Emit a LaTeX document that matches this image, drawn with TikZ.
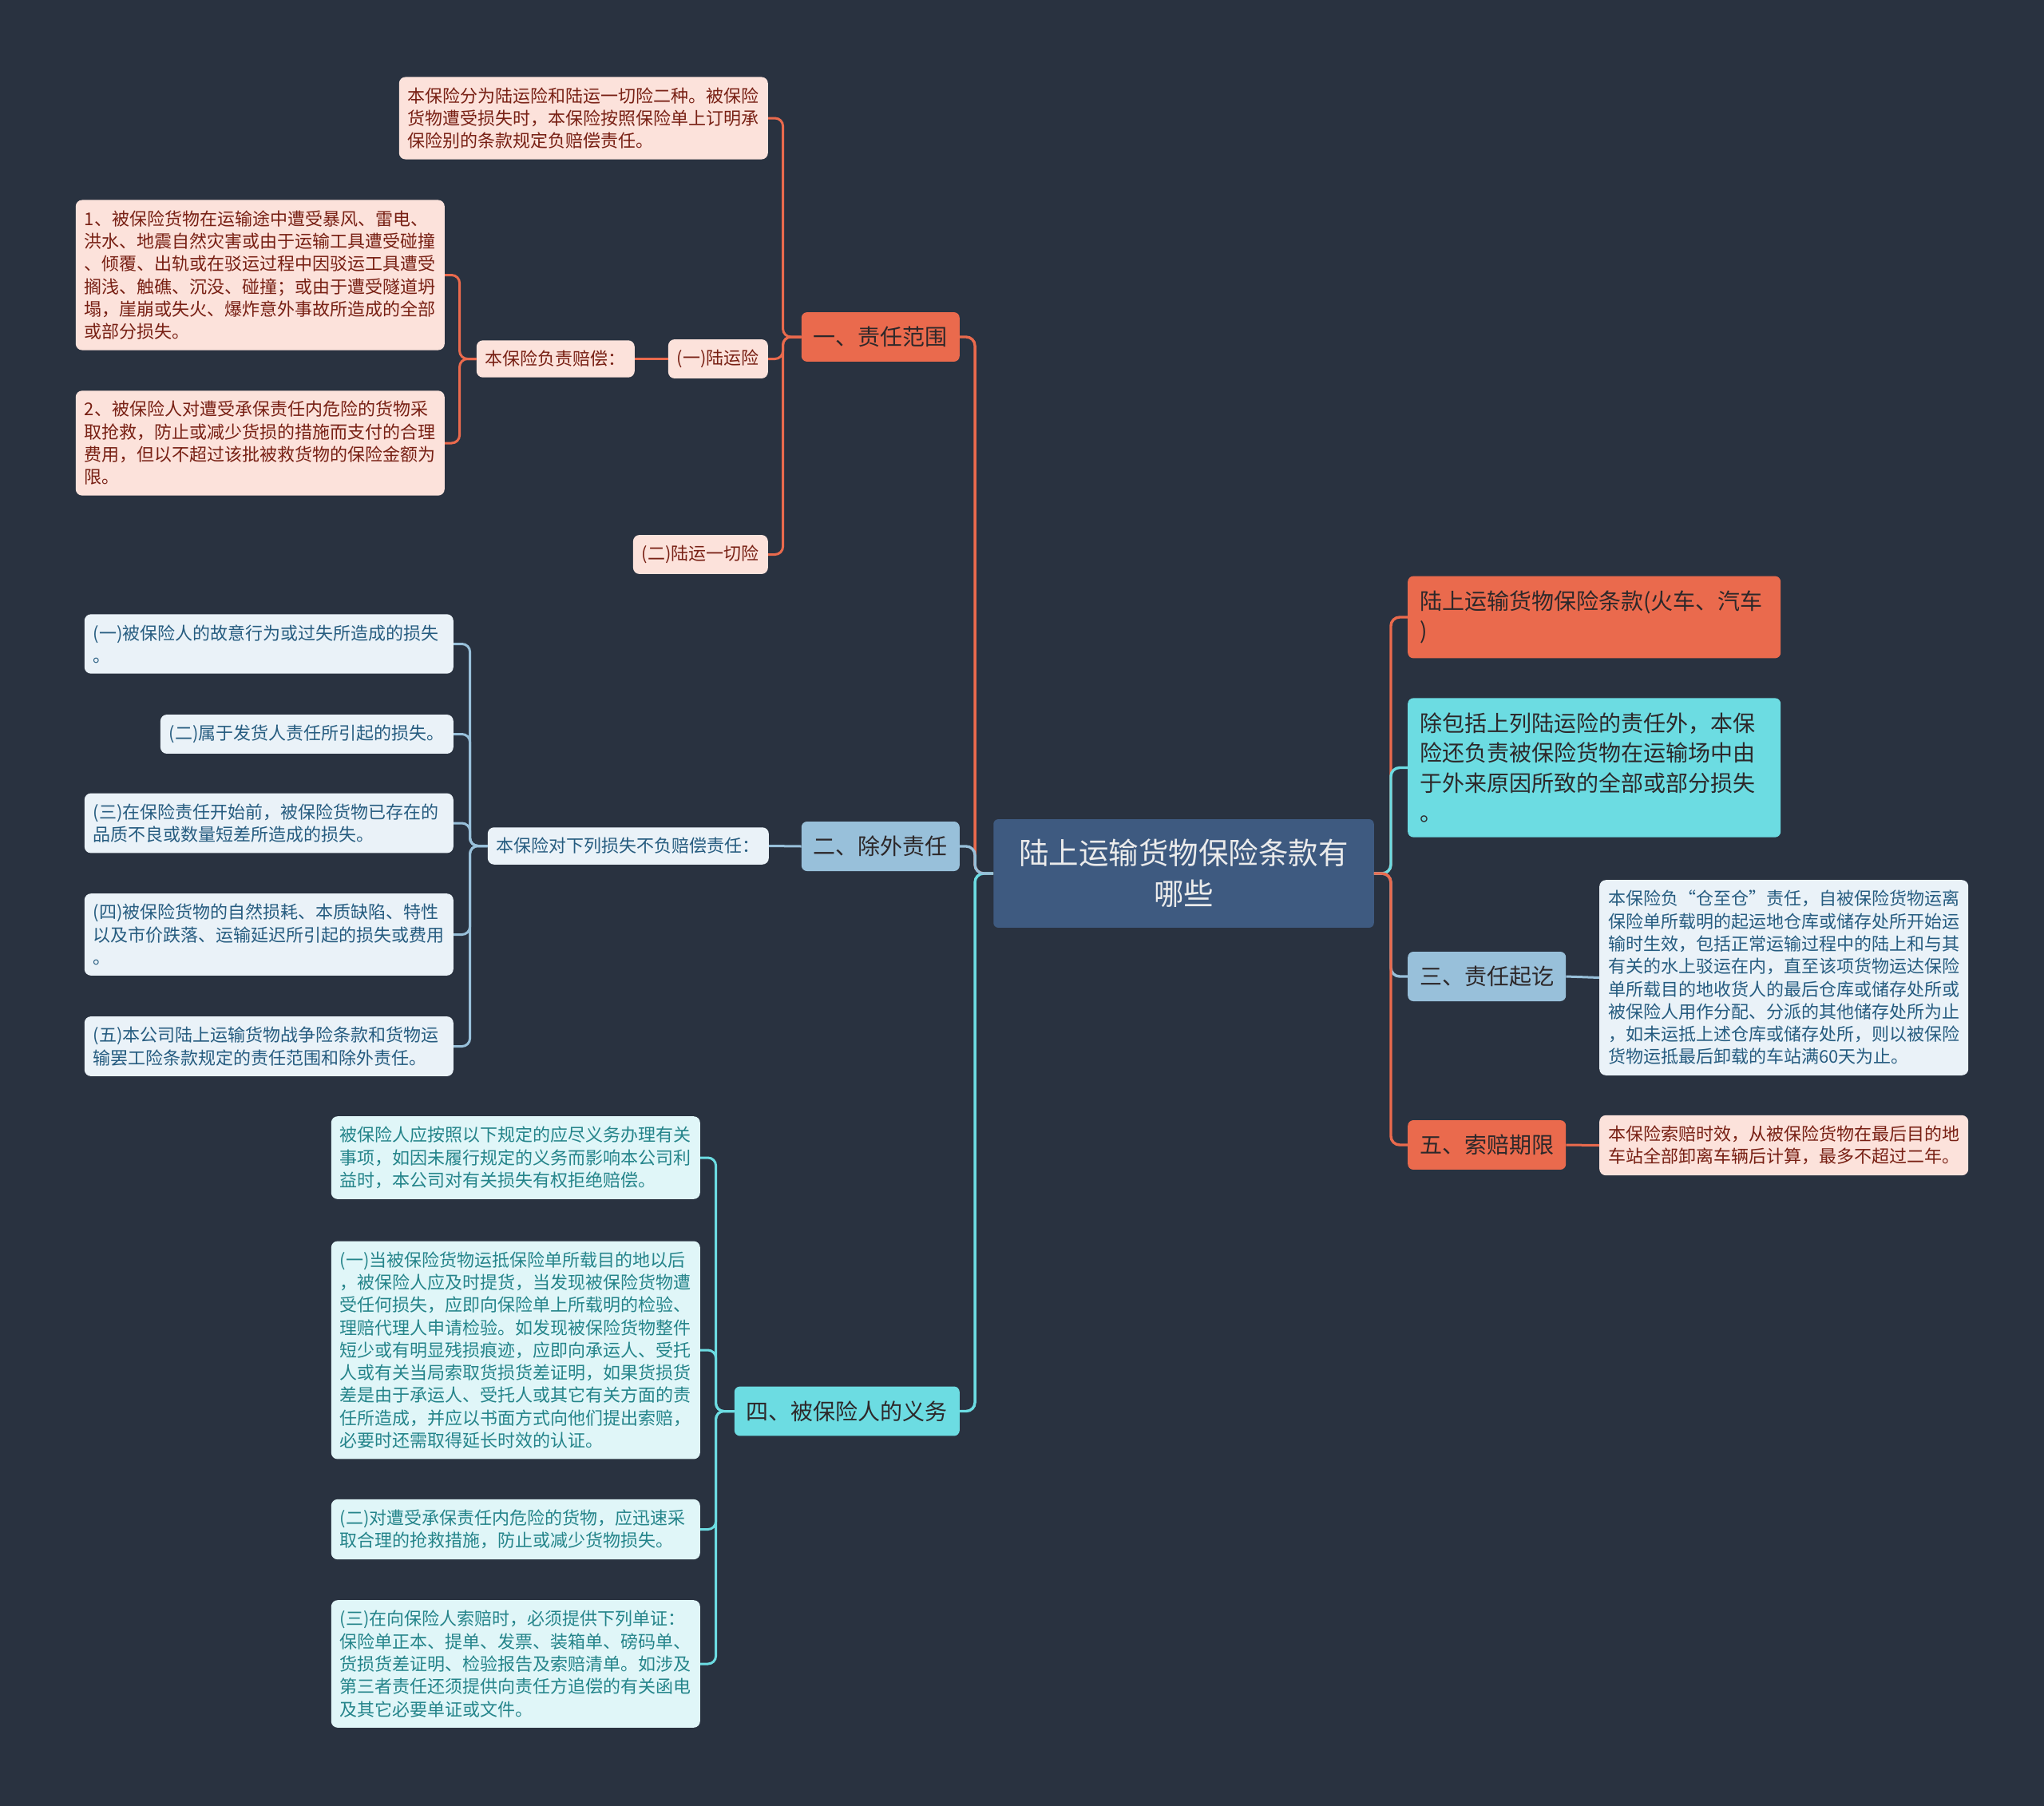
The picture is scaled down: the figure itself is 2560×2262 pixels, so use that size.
\documentclass[tikz,border=0pt]{standalone}
\usepackage{fontspec}
\setmainfont{Noto Sans CJK SC}
\usepackage{tikz}
\usetikzlibrary{positioning}

\definecolor{bgnavy}{RGB}{41,50,64}
\definecolor{rootblue}{RGB}{62,90,128}
\definecolor{topicorange}{RGB}{234,106,77}
\definecolor{topicblue}{RGB}{152,192,218}
\definecolor{topiccyan}{RGB}{108,220,226}
\definecolor{leafpink}{RGB}{252,226,219}
\definecolor{leafblue}{RGB}{234,242,248}
\definecolor{leafcyan}{RGB}{224,246,248}
\definecolor{inkred}{RGB}{120,32,20}
\definecolor{inkblue}{RGB}{38,92,128}
\definecolor{inkteal}{RGB}{36,132,138}
\definecolor{inkdark}{RGB}{45,40,42}

\begin{document}
\begin{tikzpicture}[x=1pt,y=-1pt,
  rootnode/.style={fill=rootblue,rounded corners=6,text=white!92!black,
    align=center,inner xsep=32,inner ysep=25,
    font=\fontsize{37.5}{51}\selectfont},
  topic/.style={rounded corners=7,text=inkdark,align=left,
    inner xsep=15,inner ysep=18,font=\fontsize{28}{37.6}\selectfont},
  leaf/.style={rounded corners=8,align=left,inner xsep=11,inner ysep=13,
    font=\fontsize{22}{28.3}\selectfont},
  wide/.style={text width=440},
  pinkleaf/.style={leaf,fill=leafpink,text=inkred},
  blueleaf/.style={leaf,fill=leafblue,text=inkblue},
  cyanleaf/.style={leaf,fill=leafcyan,text=inkteal},
  link/.style={line width=3.4,rounded corners=11},
  twig/.style={line width=3,rounded corners=10},
  ]
  % 背景
  \fill[bgnavy] (0,0) rectangle (2560,2262);
  \useasboundingbox (0,0) rectangle (2560,2262);

  % 中心主题
  \node[rootnode] (root) at (1482.5,1094)
    {陆上运输货物保险条款有\\哪些};

  % 一级分支（左）
  \node[topic,fill=topicorange,anchor=east] (scope) at (1202,422) {一、责任范围};
  \node[topic,fill=topicblue,anchor=east] (excl) at (1202,1060) {二、除外责任};
  \node[topic,fill=topiccyan,anchor=east] (duty) at (1202,1767.5) {四、被保险人的义务};

  % 一级分支（右）
  \node[topic,fill=topicorange,text width=437,anchor=west] (title) at (1763,773)
    {陆上运输货物保险条款(火车、汽车\\)};
  \node[topic,fill=topiccyan,text width=437,anchor=west] (extra) at (1763,961.5)
    {除包括上列陆运险的责任外，本保\\险还负责被保险货物在运输场中由\\于外来原因所致的全部或部分损失\\。};
  \node[topic,fill=topicblue,anchor=west] (period) at (1763,1223) {三、责任起讫};
  \node[topic,fill=topicorange,anchor=west] (claim) at (1763,1434) {五、索赔期限};

  % 责任范围
  \node[pinkleaf,wide,anchor=east] (scopeA) at (962,148)
    {本保险分为陆运险和陆运一切险二种。被保险\\货物遭受损失时，本保险按照保险单上订明承\\保险别的条款规定负赔偿责任。};
  \node[pinkleaf,anchor=east] (land) at (962,449.5) {(一)陆运险};
  \node[pinkleaf,anchor=east] (pay) at (795,449.5) {本保险负责赔偿：};
  \node[pinkleaf,wide,anchor=east] (riskA) at (557,344.5)
    {1、被保险货物在运输途中遭受暴风、雷电、\\洪水、地震自然灾害或由于运输工具遭受碰撞\\、倾覆、出轨或在驳运过程中因驳运工具遭受\\搁浅、触礁、沉没、碰撞；或由于遭受隧道坍\\塌，崖崩或失火、爆炸意外事故所造成的全部\\或部分损失。};
  \node[pinkleaf,wide,anchor=east] (riskB) at (557,555)
    {2、被保险人对遭受承保责任内危险的货物采\\取抢救，防止或减少货损的措施而支付的合理\\费用，但以不超过该批被救货物的保险金额为\\限。};
  \node[pinkleaf,anchor=east] (allrisk) at (962,694.5) {(二)陆运一切险};

  % 除外责任
  \node[blueleaf,anchor=east] (exhead) at (963,1059.5) {本保险对下列损失不负赔偿责任：};
  \node[blueleaf,wide,anchor=east] (exA) at (568,806.5)
    {(一)被保险人的故意行为或过失所造成的损失\\。};
  \node[blueleaf,anchor=east] (exB) at (568,919.5)
    {(二)属于发货人责任所引起的损失。};
  \node[blueleaf,wide,anchor=east] (exC) at (568,1031)
    {(三)在保险责任开始前，被保险货物已存在的\\品质不良或数量短差所造成的损失。};
  \node[blueleaf,wide,anchor=east] (exD) at (568,1170.5)
    {(四)被保险货物的自然损耗、本质缺陷、特性\\以及市价跌落、运输延迟所引起的损失或费用\\。};
  \node[blueleaf,wide,anchor=east] (exE) at (568,1310.5)
    {(五)本公司陆上运输货物战争险条款和货物运\\输罢工险条款规定的责任范围和除外责任。};

  % 被保险人的义务
  \node[cyanleaf,wide,anchor=east] (dutyA) at (877,1450)
    {被保险人应按照以下规定的应尽义务办理有关\\事项，如因未履行规定的义务而影响本公司利\\益时，本公司对有关损失有权拒绝赔偿。};
  \node[cyanleaf,wide,anchor=east] (dutyB) at (877,1691)
    {(一)当被保险货物运抵保险单所载目的地以后\\，被保险人应及时提货，当发现被保险货物遭\\受任何损失，应即向保险单上所载明的检验、\\理赔代理人申请检验。如发现被保险货物整件\\短少或有明显残损痕迹，应即向承运人、受托\\人或有关当局索取货损货差证明，如果货损货\\差是由于承运人、受托人或其它有关方面的责\\任所造成，并应以书面方式向他们提出索赔，\\必要时还需取得延长时效的认证。};
  \node[cyanleaf,wide,anchor=east] (dutyC) at (877,1915.5)
    {(二)对遭受承保责任内危险的货物，应迅速采\\取合理的抢救措施，防止或减少货物损失。};
  \node[cyanleaf,wide,anchor=east] (dutyD) at (877,2084)
    {(三)在向保险人索赔时，必须提供下列单证：\\保险单正本、提单、发票、装箱单、磅码单、\\货损货差证明、检验报告及索赔清单。如涉及\\第三者责任还须提供向责任方追偿的有关函电\\及其它必要单证或文件。};

  % 责任起讫、索赔期限
  \node[blueleaf,wide,anchor=west] (startleaf) at (2003,1224.5)
    {本保险负“仓至仓”责任，自被保险货物运离\\保险单所载明的起运地仓库或储存处所开始运\\输时生效，包括正常运输过程中的陆上和与其\\有关的水上驳运在内，直至该项货物运达保险\\单所载目的地收货人的最后仓库或储存处所或\\被保险人用作分配、分派的其他储存处所为止\\，如未运抵上述仓库或储存处所，则以被保险\\货物运抵最后卸载的车站满60天为止。};
  \node[pinkleaf,wide,anchor=west] (claimleaf) at (2003,1434.5)
    {本保险索赔时效，从被保险货物在最后目的地\\车站全部卸离车辆后计算，最多不超过二年。};

  % 连线：中心到一级
  \draw[link,topicorange] (root.west) -- ++(-23,0) |- (scope.east);
  \draw[link,topiccyan] (root.west) -- ++(-23,0) |- (duty.east);
  \draw[link,topicblue] (root.west) -- ++(-23,0) |- (excl.east);
  \draw[link,topicorange] (root.east) -- ++(21,0) |- (title.west);
  \draw[link,topiccyan] (root.east) -- ++(21,0) |- (extra.west);
  \draw[link,topicblue] (root.east) -- ++(21,0) |- (period.west);
  \draw[link,topicorange] (root.east) -- ++(21,0) |- (claim.west);

  % 连线：各分支
  \foreach \leaf in {scopeA,land,allrisk}
    \draw[twig,topicorange] (scope.west) -- ++(-23,0) |- (\leaf.east);
  \draw[twig,topicorange] (land.west) -- (pay.east);
  \foreach \leaf in {riskA,riskB}
    \draw[twig,topicorange] (pay.west) -- ++(-21,0) |- (\leaf.east);
  \draw[twig,topicblue] (excl.west) -- (exhead.east);
  \foreach \leaf in {exA,exB,exC,exD,exE}
    \draw[twig,topicblue] (exhead.west) -- ++(-22,0) |- (\leaf.east);
  \foreach \leaf in {dutyA,dutyB,dutyC,dutyD}
    \draw[twig,topiccyan] (duty.west) -- ++(-23,0) |- (\leaf.east);
  \draw[twig,topicblue] (period.east) -- (startleaf.west);
  \draw[twig,topicorange] (claim.east) -- (claimleaf.west);
\end{tikzpicture}
\end{document}
